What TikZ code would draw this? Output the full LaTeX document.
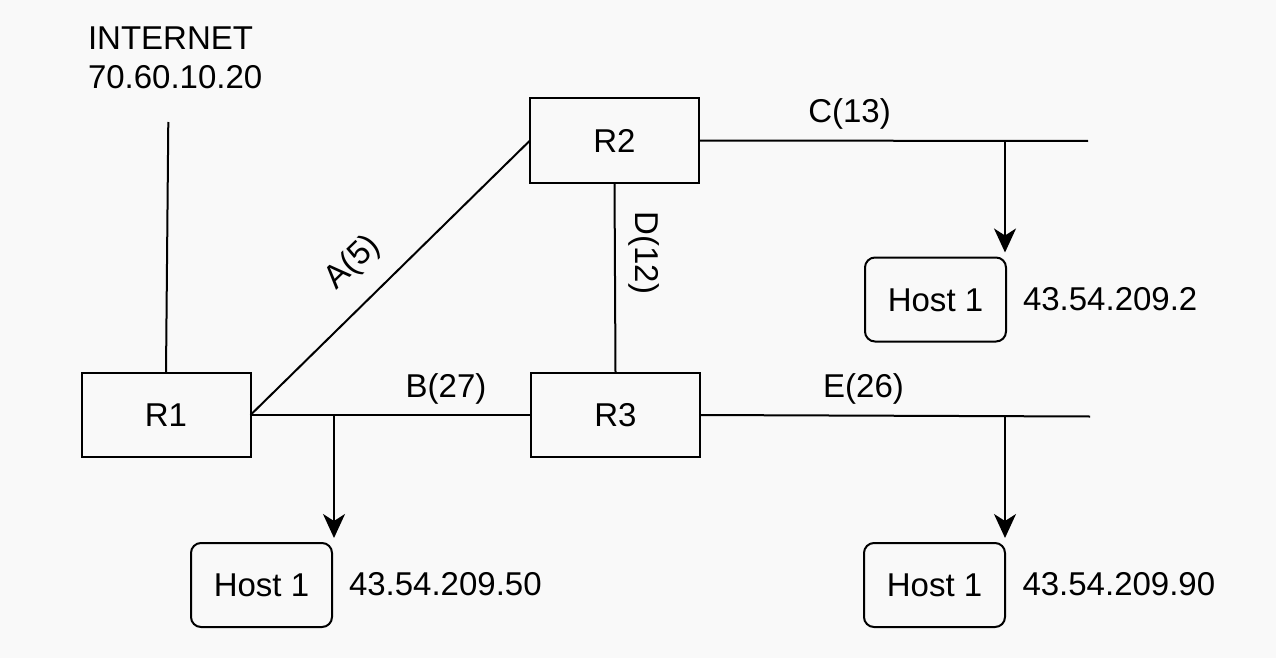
\documentclass[tikz,border=0pt]{standalone}
\usepackage{fontspec}
\setmainfont{Liberation Sans}
\usetikzlibrary{arrows.meta,calc}
\definecolor{bgcol}{RGB}{249,249,249}
\begin{document}
\begin{tikzpicture}[x=1pt,y=-1pt,
  font=\fontsize{33}{38}\selectfont,
  every node/.style={inner sep=0pt, outer sep=0pt},
  line/.style={line width=2pt, black},
  router/.style={draw, line width=2pt, minimum width=169pt, minimum height=84pt,
    text height=23.6pt, text depth=0pt},
  hostbox/.style={draw, line width=2pt, rounded corners=10pt, minimum width=141pt,
    minimum height=84pt, text height=23.6pt, text depth=0pt},
  lbl/.style={},
  arr/.style={line width=2pt, -{Stealth[length=24pt, width=22pt, inset=7pt]}, shorten >=5pt}
]
\fill[bgcol] (0,0) rectangle (1276,658);
\useasboundingbox (0,0) rectangle (1276,658);

% routers
\node[router] (R1) at (166,415) {R1};
\node[router] (R2) at (614.5,140.5) {R2};
\node[router] (R3) at (615.5,415) {R3};

% hosts
\node[hostbox] (H1) at (261.5,585) {Host 1};
\node[hostbox] (H2) at (935.5,299.5) {Host 1};
\node[hostbox] (H3) at (934.5,585) {Host 1};

% internet
\node[lbl, anchor=base west] (inetT) at (88,50) {INTERNET};
\node[lbl, anchor=base west] (inetIP) at (88,89) {70.60.10.20};
\coordinate (inet) at (168.3,122);
\draw[line] (inet) -- (R1.north);

% links
\draw[line] (R1.east) -- (R2.west);
\draw[line] (R1.east) -- (R3.west);
\draw[line] (R2.south) -- (R3.north);
\coordinate (Cend) at (1088,141);
\draw[line] (R2.east) -- (Cend);
\coordinate (Eend) at (1090,416.5);
\draw[line] (R3.east) -- (Eend);

% branches to hosts
\coordinate (bB) at (334,415);
\coordinate (bC) at (1005,141);
\coordinate (bE) at (1005,416);
\draw[arr] (bB) -- (bB |- H1.north);
\draw[arr] (bC) -- (bC |- H2.north);
\draw[arr] (bE) -- (bE |- H3.north);

% link labels
\node[lbl, rotate=44] (lA) at (353,263) {A(5)};
\node[lbl, anchor=base] (lB) at (446,397) {B(27)};
\node[lbl, anchor=base] (lC) at (849.5,122) {C(13)};
\node[lbl, rotate=-90] (lD) at (644,253) {D(12)};
\node[lbl, anchor=base] (lE) at (863.5,397) {E(26)};

% addresses
\node[lbl, anchor=base west] (ip2) at (1023,310) {43.54.209.2};
\node[lbl, anchor=base west] (ip1) at (349,595) {43.54.209.50};
\node[lbl, anchor=base west] (ip3) at (1022.5,595) {43.54.209.90};
\end{tikzpicture}
\end{document}
